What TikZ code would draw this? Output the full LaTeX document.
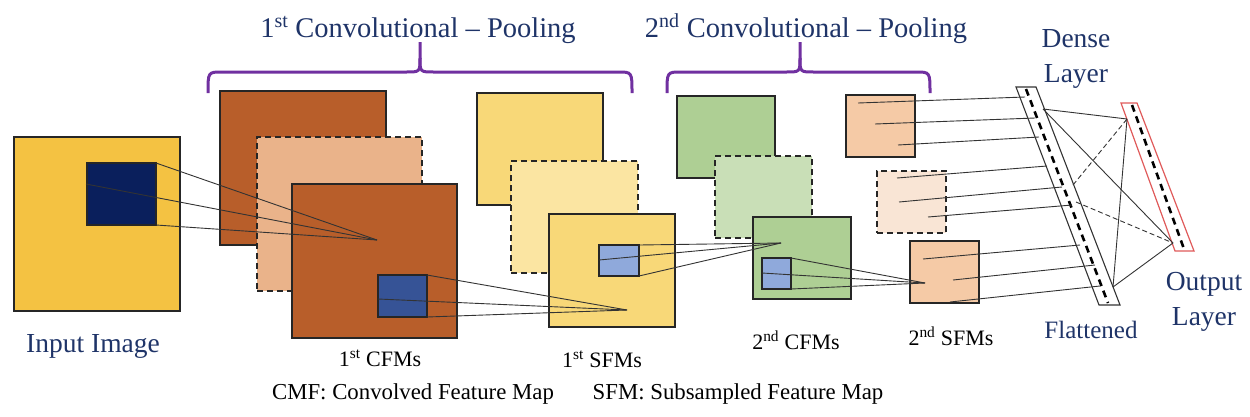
\documentclass[tikz,border=0pt]{standalone}
\usepackage{fontspec}
\setmainfont{Liberation Serif}
\definecolor{navytxt}{HTML}{1F3468}
\definecolor{inyellow}{HTML}{F4C242}
\definecolor{navysq}{HTML}{0A1F5C}
\definecolor{brownc}{HTML}{B85E2A}
\definecolor{lbrownc}{HTML}{EAB38A}
\definecolor{bluesq}{HTML}{365396}
\definecolor{yellowc}{HTML}{F8D878}
\definecolor{lyellowc}{HTML}{FBE5A2}
\definecolor{lbluesq}{HTML}{8FA9DB}
\definecolor{greenc}{HTML}{AECF94}
\definecolor{lgreenc}{HTML}{C9DFB7}
\definecolor{peachc}{HTML}{F5CAA6}
\definecolor{lpeachc}{HTML}{F9E5D5}
\definecolor{bracepurple}{HTML}{7030A0}
\definecolor{outred}{HTML}{E05A5A}
\begin{document}
\begin{tikzpicture}[x=1pt,y=-1pt,
  box/.style={draw=black!85, line width=1.6pt, inner sep=0pt, outer sep=0pt, anchor=north west},
  dbox/.style={box, dash pattern=on 6pt off 4pt},
  conn/.style={draw=black!80, line width=0.9pt},
  dconn/.style={conn, dash pattern=on 5pt off 3pt},
  bracestyle/.style={draw=bracepurple, line width=3pt},
  bar/.style={draw=black!80, line width=1.1pt, fill=white},
  barcenter/.style={draw=black, line width=2.6pt, dash pattern=on 7pt off 5pt},
  title/.style={text=navytxt, font=\fontsize{28.5}{34}\selectfont, anchor=base, inner sep=0pt},
  bigl/.style={text=navytxt, font=\fontsize{27.5}{35}\selectfont, inner sep=0pt},
  lab/.style={text=black, font=\fontsize{22}{26}\selectfont, anchor=base, inner sep=0pt},
  legend/.style={text=black, font=\fontsize{22.8}{26}\selectfont, anchor=base, inner sep=0pt}]
\useasboundingbox (0,0) rectangle (1250,416);

% ---------- titles and braces ----------
\node[title] (t1) at (418,37) {1\textsuperscript{st} Convolutional -- Pooling};
\node[title] (t2) at (806,37) {2\textsuperscript{nd} Convolutional -- Pooling};
\draw[bracestyle] (208,93) .. controls (208,72) .. (222,72) -- (406,72)
  .. controls (420,72) .. (420,58) -- (420,42);
\draw[bracestyle] (420,58) .. controls (420,72) .. (434,72) -- (618,72)
  .. controls (632,72) .. (632,93);
\draw[bracestyle] (667,93) .. controls (667,72) .. (681,72) -- (786,72)
  .. controls (800,72) .. (800,58) -- (800,42);
\draw[bracestyle] (800,58) .. controls (800,72) .. (814,72) -- (916,72)
  .. controls (930,72) .. (930,93);

% ---------- input image ----------
\node[box, fill=inyellow, minimum width=166pt, minimum height=174pt] (inp) at (14,137) {};
\node[box, fill=navysq, minimum width=69pt, minimum height=62pt] (inpsq) at (87,163) {};
\coordinate (inpl) at (86,184);

% ---------- 1st CFMs ----------
\node[box, fill=brownc, minimum width=166pt, minimum height=154pt] (cfma) at (220,91) {};
\node[dbox, fill=lbrownc, minimum width=165pt, minimum height=154pt] (cfmb) at (257,137) {};
\node[box, fill=brownc, minimum width=165pt, minimum height=154pt] (cfmc) at (292,184) {};
\node[box, fill=bluesq, minimum width=49pt, minimum height=42pt] (cfmsq) at (378,275) {};
\coordinate (f1) at (377,240);
\coordinate (cfml) at (378,299);

\draw[conn] (inpsq.north east) -- (f1);
\draw[conn] (inpl) -- (f1);
\draw[conn] (inpsq.south east) -- (f1);

% ---------- 1st SFMs ----------
\node[box, fill=yellowc, minimum width=126pt, minimum height=112pt] (sfma) at (477,93) {};
\node[dbox, fill=lyellowc, minimum width=127pt, minimum height=112pt] (sfmb) at (511,161) {};
\node[box, fill=yellowc, minimum width=126pt, minimum height=113pt] (sfmc) at (549,214) {};
\node[box, fill=lbluesq, minimum width=40pt, minimum height=31pt] (sfmsq) at (599,245) {};
\coordinate (f2) at (627,310);
\coordinate (sfml) at (599,260);

\draw[conn] (cfmsq.north east) -- (f2);
\draw[conn] (cfml) -- (f2);
\draw[conn] (cfmsq.south east) -- (f2);

% ---------- 2nd CFMs ----------
\node[box, fill=greenc, minimum width=98pt, minimum height=82pt] (cfm2a) at (677,96) {};
\node[dbox, fill=lgreenc, minimum width=97pt, minimum height=82pt] (cfm2b) at (715,156) {};
\node[box, fill=greenc, minimum width=98pt, minimum height=82pt] (cfm2c) at (753,217) {};
\node[box, fill=lbluesq, minimum width=29pt, minimum height=31pt] (cfm2sq) at (762,258) {};
\coordinate (f3) at (781,243);
\coordinate (cfm2l) at (762,273);

\draw[conn] (sfmsq.north east) -- (f3);
\draw[conn] (sfml) -- (f3);
\draw[conn] (sfmsq.south east) -- (f3);

% ---------- 2nd SFMs ----------
\node[box, fill=peachc, minimum width=69pt, minimum height=62pt] (sfm2a) at (846,95) {};
\node[dbox, fill=lpeachc, minimum width=69pt, minimum height=62pt] (sfm2b) at (877,171) {};
\node[box, fill=peachc, minimum width=69pt, minimum height=62pt] (sfm2c) at (910,241) {};
\coordinate (f4) at (925,283);

\draw[conn] (cfm2sq.north east) -- (f4);
\draw[conn] (cfm2l) -- (f4);
\draw[conn] (cfm2sq.south east) -- (f4);

% ---------- flattened (dense) layer ----------
\coordinate (fl1) at (1016,87);
\coordinate (fl2) at (1036,87);
\coordinate (fl3) at (1120,305);
\coordinate (fl4) at (1099,305);
\draw[bar] (fl1) -- (fl2) -- (fl3) -- (fl4) -- cycle;
\coordinate (flt) at (1026,89);
\coordinate (flb) at (1108,303);
\draw[barcenter] (flt) -- (flb);

% ---------- output layer ----------
\coordinate (ol1) at (1121,103);
\coordinate (ol2) at (1137,103);
\coordinate (ol3) at (1194,251);
\coordinate (ol4) at (1175,251);
\draw[draw=outred, line width=1.2pt, fill=white] (ol1) -- (ol2) -- (ol3) -- (ol4) -- cycle;
\coordinate (olt) at (1132,105);
\coordinate (olb) at (1184,249);
\draw[barcenter] (olt) -- (olb);

% ---------- SFM2 to flattened ----------
\coordinate (s1) at (858,103);  \coordinate (e1) at (1025,97);
\coordinate (s2) at (875,124);  \coordinate (e2) at (1035,118);
\coordinate (s3) at (898,145);  \coordinate (e3) at (1039,137);
\coordinate (s4) at (897,178);  \coordinate (e4) at (1047,166);
\coordinate (s5) at (899,202);  \coordinate (e5) at (1062,187);
\coordinate (s6) at (928,217);  \coordinate (e6) at (1072,205);
\coordinate (s7) at (923,259);  \coordinate (e7) at (1080,245);
\coordinate (s8) at (953,280);  \coordinate (e8) at (1095,265);
\coordinate (s9) at (950,302);  \coordinate (e9) at (1100,286);
\foreach \i in {1,...,9} { \draw[conn] (s\i) -- (e\i); }

% ---------- flattened to output ----------
\coordinate (n1) at (1043,109);
\coordinate (n2) at (1073,185);
\coordinate (n3) at (1076,202);
\coordinate (n4) at (1113,287);
\coordinate (o1) at (1127,119);
\coordinate (o2) at (1173,243);
\draw[conn] (n1) -- (o1);
\draw[conn] (n1) -- (o2);
\draw[dconn] (n2) -- (o1);
\draw[dconn] (n3) -- (o2);
\draw[conn] (n4) -- (o1);
\draw[conn] (n4) -- (o2);

% ---------- labels ----------
\node[bigl, anchor=base] (linp) at (93,352) {Input Image};
\node[bigl, align=center, anchor=north] (ldense) at (1076,29.5) {Dense\\Layer};
\node[bigl, font=\fontsize{25}{30}\selectfont, anchor=base] (lflat) at (1091,338) {Flattened};
\node[bigl, align=center, anchor=north] (lout) at (1204,272) {Output\\Layer};
\node[lab] (l1c) at (380,366) {1\textsuperscript{st} CFMs};
\node[lab] (l1s) at (602,367) {1\textsuperscript{st} SFMs};
\node[lab] (l2c) at (796,349) {2\textsuperscript{nd} CFMs};
\node[lab] (l2s) at (951,345) {2\textsuperscript{nd} SFMs};
\node[legend] (lg1) at (413,399) {CMF: Convolved Feature Map};
\node[legend] (lg2) at (738,399) {SFM: Subsampled Feature Map};
\end{tikzpicture}
\end{document}
